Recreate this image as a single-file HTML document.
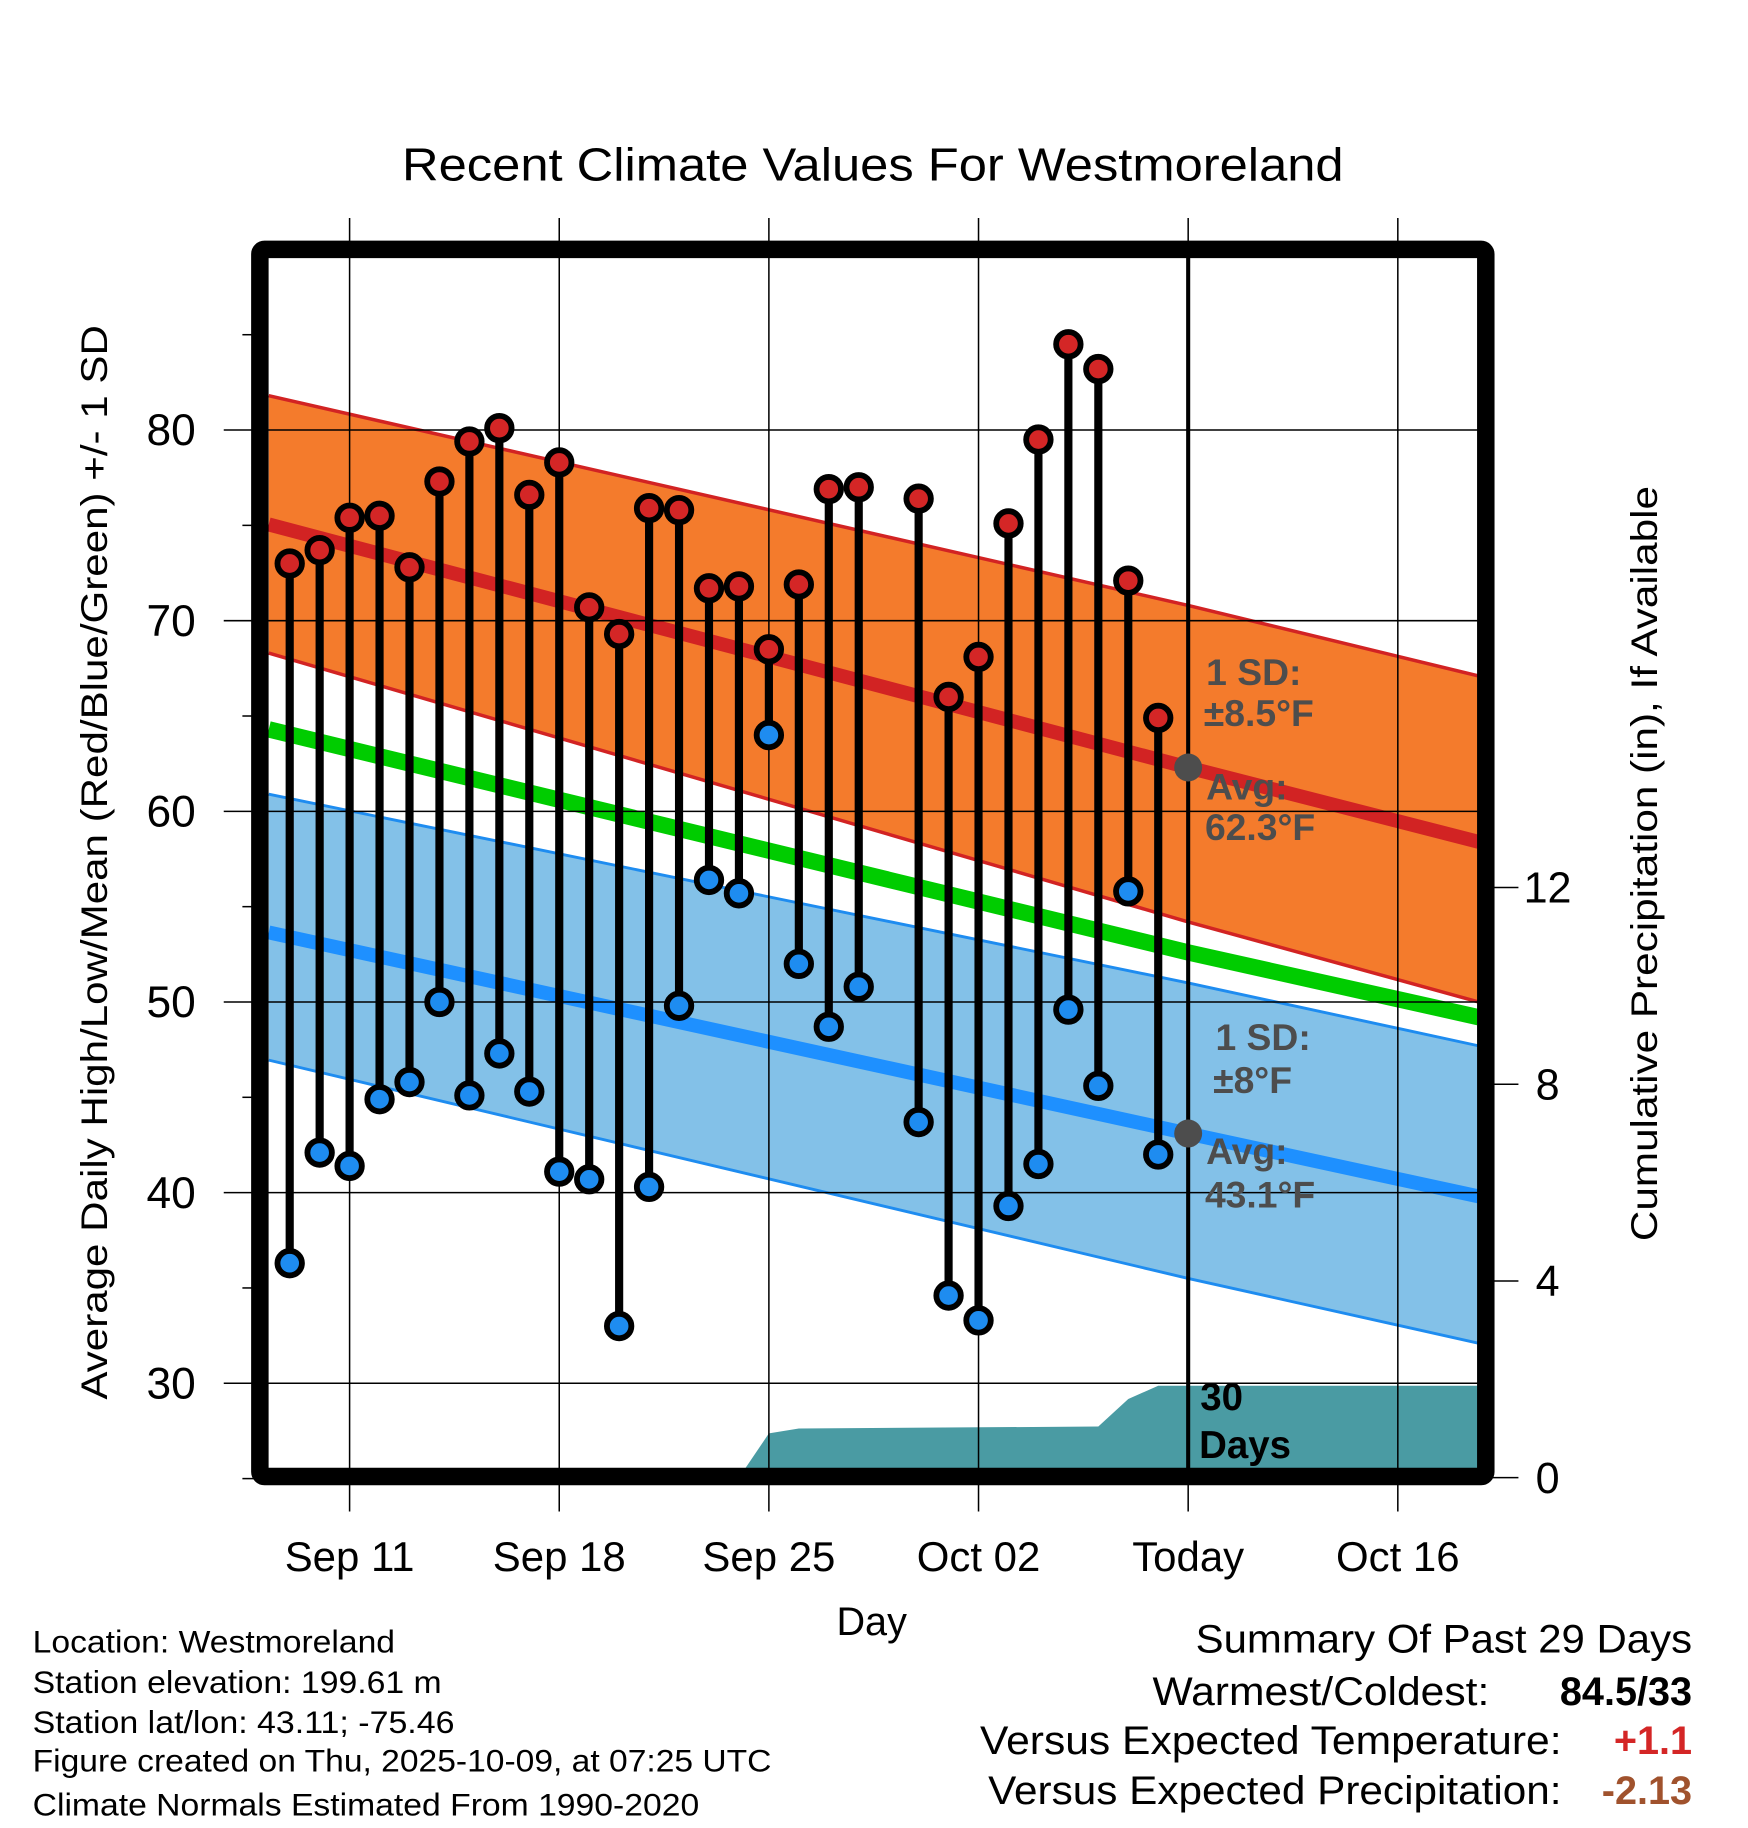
<!DOCTYPE html>
<html><head><meta charset="utf-8"><style>html,body{margin:0;padding:0;background:#fff}svg{display:block}text{font-family:"Liberation Sans",sans-serif}</style></head>
<body>
<svg id="chart" xmlns="http://www.w3.org/2000/svg" width="1748" height="1828" viewBox="0 0 1500 1568.6">
<g id="g"></g>
</svg>
<script>
// ---- data ----
const dayLabels = ["Sep 11","Sep 18","Sep 25","Oct 02","Today","Oct 16"];
const dayLabelIdx = [0,7,14,21,28,35];
const obsDays = [-2,-1,0,1,2,3,4,5,6,7,8,9,10,11,12,13,14,15,16,17,19,20,21,22,23,24,25,26,27];
const highs = [73,73.7,75.4,75.5,72.8,77.3,79.4,80.1,76.6,78.3,70.7,69.3,75.9,75.8,71.7,71.8,68.5,71.9,76.9,77,76.4,66,68.1,75.1,79.5,84.5,83.2,72.1,64.9];
const lows = [36.3,42.1,41.4,44.9,45.8,50,45.1,47.3,45.3,41.1,40.7,33,40.3,49.8,56.4,55.7,64,52,48.7,50.8,43.7,34.6,33.3,39.3,41.5,49.6,45.6,55.8,42];
const normDays = [-2.7,28,37.7];
const normHigh = [75.05,62.3,58.4];
const normHighUp = [81.8,70.8,67.1];
const normHighLo = [68.3,54.2,50.0];
const normMean = [64.3,52.6,49.2];
const normLow = [53.65,43.1,39.8];
const normLowUp = [60.9,51.0,47.7];
const normLowLo = [46.95,35.5,32.1];
const precipDays = [13,14,15,25,26,27,37.7];
const precipVals = [0,0.9,1.0,1.04,1.6,1.87,1.87];
const tempTicks = [30,40,50,60,70,80];
const precipTicks = [0,4,8,12];

// ---- axes ----
const X=d=>300+d*25.7;
const Y=t=>369+(80-t)*16.36;
const P=p=>1268-p*42.2;
const L=230,R=1268,T=221,B=1260;
const NS='http://www.w3.org/2000/svg';
const g=document.getElementById('g');
function el(tag,attrs,parent){const e=document.createElementNS(NS,tag);for(const k in attrs)e.setAttribute(k,attrs[k]);(parent||g).appendChild(e);return e;}
function txt(s,attrs,parent){const e=el('text',attrs,parent);e.textContent=s;return e;}
function interp(days,vals,d){for(let i=0;i<days.length-1;i++){if(d<=days[i+1]){const f=(d-days[i])/(days[i+1]-days[i]);return vals[i]+f*(vals[i+1]-vals[i]);}}return vals[vals.length-1];}
function linePts(arr){return normDays.map((d,i)=>X(d)+','+Y(arr[i])).join(' ');}
function bandPts(up,lo){const a=normDays.map((d,i)=>X(d)+','+Y(up[i]));const b=normDays.slice().reverse().map((d,j)=>X(d)+','+Y(lo[normDays.length-1-j]));return a.concat(b).join(' ');}

let e;
e=txt('Recent Climate Values For Westmoreland',{x:749,y:155,'font-size':40,'text-anchor':'middle',textLength:808,lengthAdjust:'spacingAndGlyphs'});



const clip=el('clipPath',{id:'pc'});el('rect',{x:L,y:T,width:R-L,height:B-T},clip);
const plot=el('g',{'clip-path':'url(#pc)'});



e=el('polygon',{points:bandPts(normHighUp,normHighLo),fill:'#f47b2c'},plot);


e=el('polygon',{points:bandPts(normLowUp,normLowLo),fill:'#83c1e8'},plot);


el('polyline',{points:linePts(normHighUp),fill:'none',stroke:'#d22323','stroke-width':3},plot);
el('polyline',{points:linePts(normHighLo),fill:'none',stroke:'#d22323','stroke-width':3},plot);
el('polyline',{points:linePts(normLowUp),fill:'none',stroke:'#1e8cf0','stroke-width':2.5},plot);
el('polyline',{points:linePts(normLowLo),fill:'none',stroke:'#1e8cf0','stroke-width':2.5},plot);
e=el('polyline',{points:linePts(normHigh),fill:'none',stroke:'#d22323','stroke-width':12},plot);


e=el('polyline',{points:linePts(normMean),fill:'none',stroke:'#00cc00','stroke-width':14},plot);


e=el('polyline',{points:linePts(normLow),fill:'none',stroke:'#1e90ff','stroke-width':12},plot);



// precip area
let pp=[X(precipDays[0])+','+P(0)];
precipDays.forEach((d,i)=>pp.push(X(d)+','+P(precipVals[i])));
pp.push(X(precipDays[precipDays.length-1])+','+P(0));
e=el('polygon',{points:pp.join(' '),fill:'#4a9ba3'},plot);



// grid
dayLabelIdx.forEach(d=>{el('line',{x1:X(d),x2:X(d),y1:187,y2:1297,stroke:'#000','stroke-width':1.3});});
tempTicks.forEach(t=>{el('line',{x1:192,x2:R,y1:Y(t),y2:Y(t),stroke:'#000','stroke-width':1.3});});
for(let t=30;t<=85;t+=5){if(t%10)el('line',{x1:208,x2:220,y1:Y(t),y2:Y(t),stroke:'#000','stroke-width':1.3});}
el('line',{x1:208,x2:220,y1:Y(25),y2:Y(25),stroke:'#000','stroke-width':1.3});
precipTicks.forEach(p=>{el('line',{x1:1275,x2:1303,y1:P(p),y2:P(p),stroke:'#000','stroke-width':1.3});
 e=txt(String(p),{x:1328,y:P(p)+13,'font-size':37,'text-anchor':'middle'});
 
 });
tempTicks.forEach(t=>{e=txt(String(t),{x:168,y:Y(t)+13,'font-size':38,'text-anchor':'end'});
 
 });
dayLabels.forEach((s,i)=>{e=txt(s,{x:X(dayLabelIdx[i]),y:1348,'font-size':36,'text-anchor':'middle'});
 
 });

// today line
e=el('line',{x1:X(28),x2:X(28),y1:T,y2:B,stroke:'#000','stroke-width':3.5});



// stems & markers
obsDays.forEach((d,i)=>{
 const s=el('line',{x1:X(d),x2:X(d),y1:Y(highs[i]),y2:Y(lows[i]),stroke:'#000','stroke-width':7});
 
 
});
obsDays.forEach((d,i)=>{
 const h=el('circle',{cx:X(d),cy:Y(highs[i]),r:10.5,fill:'#d42626',stroke:'#000','stroke-width':5});
 
 
 const l=el('circle',{cx:X(d),cy:Y(lows[i]),r:10.5,fill:'#1e8cf0',stroke:'#000','stroke-width':5});
 
 
});
e=el('circle',{cx:X(28),cy:Y(interp(normDays,normHigh,28)),r:12,fill:'#4d4d4d'});


e=el('circle',{cx:X(28),cy:Y(interp(normDays,normLow,28)),r:12,fill:'#4d4d4d'});



// annotations
const ann=[['1 SD:',1035,588],['\u00b18.5\u00b0F',1033,623],['Avg:',1035,686],['62.3\u00b0F',1034,721],['1 SD:',1043,901],['\u00b18\u00b0F',1041,938],['Avg:',1035,999],['43.1\u00b0F',1034,1036]];
ann.forEach(a=>{e=txt(a[0],{x:a[1],y:a[2],'font-size':32,'font-weight':'bold',fill:'#4d4d4d'});
 
 });
e=txt('30',{x:1030,y:1210,'font-size':33,'font-weight':'bold'});


e=txt('Days',{x:1029,y:1251,'font-size':33,'font-weight':'bold'});



// frame
e=el('rect',{x:223,y:214,width:1052,height:1053,fill:'none',stroke:'#000','stroke-width':15,rx:4});



// axis titles
e=txt('Average Daily High/Low/Mean (Red/Blue/Green) +/- 1 SD',{x:0,y:0,'font-size':32,'text-anchor':'middle',transform:'translate(92,740) rotate(-90)',textLength:922,lengthAdjust:'spacingAndGlyphs'});


e=txt('Cumulative Precipitation (in), If Available',{x:0,y:0,'font-size':32,'text-anchor':'middle',transform:'translate(1422,741) rotate(-90)',textLength:648,lengthAdjust:'spacingAndGlyphs'});


e=txt('Day',{x:748,y:1403,'font-size':34,'text-anchor':'middle'});



// footer info
const info=[['Location: Westmoreland',1418,311],['Station elevation: 199.61 m',1453,351],['Station lat/lon: 43.11; -75.46',1487,362],['Figure created on Thu, 2025-10-09, at 07:25 UTC',1520,634],['Climate Normals Estimated From 1990-2020',1558,572]];
info.forEach(a=>{e=txt(a[0],{x:28,y:a[1],'font-size':27,textLength:a[2],lengthAdjust:'spacingAndGlyphs'});
 
 });

// summary
e=txt('Summary Of Past 29 Days',{x:1452,y:1418,'font-size':34,'text-anchor':'end',textLength:426,lengthAdjust:'spacingAndGlyphs'});


const sl=[['Warmest/Coldest:',1278,1463,289],['Versus Expected Temperature:',1340,1505,499],['Versus Expected Precipitation:',1340,1548,492]];
sl.forEach(a=>{e=txt(a[0],{x:a[1],y:a[2],'font-size':34,'text-anchor':'end',textLength:a[3],lengthAdjust:'spacingAndGlyphs'});
 
 });
const sv=[['84.5/33',1463,'#000'],['+1.1',1505,'#d42626'],['-2.13',1548,'#a0522d']];
sv.forEach(a=>{e=txt(a[0],{x:1452,y:a[1],'font-size':34,'font-weight':'bold','text-anchor':'end',fill:a[2]});
 
 });
</script>
</body></html>
